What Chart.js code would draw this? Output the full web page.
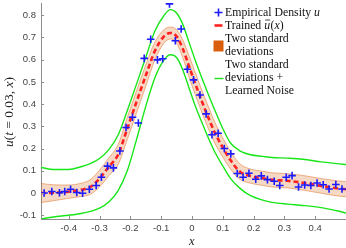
<!DOCTYPE html>
<html>
<head>
<meta charset="utf-8">
<script src="https://cdn.jsdelivr.net/npm/chart.js@4.4.1/dist/chart.umd.min.js"></script>
<style>
  html, body { margin: 0; padding: 0; background: #fff; }
  #wrap { width: 346px; height: 248px; }
</style>
</head>
<body>
<div id="wrap"><canvas id="c"></canvas></div>
<script>
// x grid shared by the curves
const gridX = [-0.49, -0.45, -0.40, -0.36, -0.33, -0.30, -0.27, -0.24, -0.21, -0.18, -0.15, -0.12, -0.09, -0.07, -0.05, -0.03, -0.01,
               0.01, 0.03, 0.05, 0.075, 0.10, 0.125, 0.155, 0.19, 0.23, 0.26, 0.31, 0.36, 0.42, 0.47, 0.50];
const meanU = [0.000, 0.001, 0.006, 0.014, 0.027, 0.065, 0.118, 0.172, 0.290, 0.410, 0.528, 0.640, 0.706, 0.720, 0.705, 0.650, 0.572,
               0.495, 0.420, 0.350, 0.269, 0.205, 0.148, 0.097, 0.076, 0.066, 0.059, 0.055, 0.046, 0.032, 0.021, 0.017];
const bandHigh = [0.043, 0.037, 0.036, 0.044, 0.060, 0.103, 0.158, 0.217, 0.340, 0.460, 0.576, 0.680, 0.736, 0.747, 0.735, 0.690, 0.620,
                  0.545, 0.470, 0.400, 0.316, 0.248, 0.188, 0.132, 0.108, 0.098, 0.091, 0.087, 0.079, 0.065, 0.055, 0.051];
const bandLow = [-0.043, -0.035, -0.024, -0.016, -0.006, 0.027, 0.078, 0.127, 0.240, 0.360, 0.480, 0.600, 0.676, 0.693, 0.675, 0.610, 0.524,
                 0.445, 0.370, 0.300, 0.222, 0.162, 0.108, 0.062, 0.044, 0.034, 0.027, 0.023, 0.013, -0.001, -0.013, -0.017];
const noiseHigh = [0.115, 0.106, 0.106, 0.118, 0.132, 0.155, 0.195, 0.260, 0.370, 0.490, 0.610, 0.730, 0.800, 0.825, 0.810, 0.760, 0.680,
                   0.600, 0.525, 0.455, 0.370, 0.290, 0.225, 0.190, 0.172, 0.165, 0.160, 0.157, 0.152, 0.140, 0.132, 0.128];
const noiseLow = [-0.117, -0.108, -0.100, -0.092, -0.083, -0.068, -0.040, 0.010, 0.100, 0.240, 0.390, 0.520, 0.600, 0.622, 0.610, 0.555, 0.475,
                  0.395, 0.325, 0.258, 0.182, 0.122, 0.066, 0.022, -0.012, -0.032, -0.042, -0.050, -0.056, -0.066, -0.080, -0.090];

// empirical density samples
const sampleX = [-0.480, -0.455, -0.430, -0.413, -0.394, -0.374, -0.355, -0.333, -0.311, -0.294, -0.274, -0.255, -0.234, -0.214, -0.193, -0.174,
                 -0.155, -0.134, -0.112, -0.095, -0.073, -0.054, -0.035, -0.015, 0.005, 0.026, 0.046, 0.065, 0.085, 0.105, 0.126, 0.147,
                 0.166, 0.185, 0.207, 0.225, 0.245, 0.267, 0.285, 0.306, 0.325, 0.346, 0.366, 0.386, 0.406, 0.426, 0.445, 0.467, 0.487];
const sampleU = [0.000, 0.007, 0.001, 0.007, 0.017, 0.002, -0.001, 0.017, 0.034, 0.071, 0.121, 0.113, 0.189, 0.295, 0.341, 0.315,
                 0.606, 0.692, 0.599, 0.604, 0.851, 0.685, 0.738, 0.557, 0.509, 0.441, 0.356, 0.262, 0.269, 0.200, 0.176, 0.088,
                 0.071, 0.089, 0.062, 0.077, 0.060, 0.053, 0.034, 0.071, 0.078, 0.027, 0.036, 0.034, 0.045, 0.037, 0.018, 0.038, 0.018];

const xTicks = [-0.4, -0.3, -0.2, -0.1, 0, 0.1, 0.2, 0.3, 0.4];
const yTicks = [-0.1, 0, 0.1, 0.2, 0.3, 0.4, 0.5, 0.6, 0.7, 0.8];

const pts = ys => gridX.map((x, i) => ({ x, y: ys[i] }));

const SERIF = '"Liberation Serif", "DejaVu Serif", serif';
const BLUE = '#1c1cff', RED = '#ff2020', GREEN = '#19e619', ORANGE = '#d95f0e';

function drawRuns(ctx, runs, x, y, size) {
    for (const [t, it] of runs) {
        ctx.font = (it ? 'italic ' : '') + size + 'px ' + SERIF;
        ctx.fillText(t, x, y);
        x += ctx.measureText(t).width;
    }
    return x;
}

function runsWidth(ctx, runs, size) {
    let w = 0;
    for (const [t, it] of runs) {
        ctx.font = (it ? 'italic ' : '') + size + 'px ' + SERIF;
        w += ctx.measureText(t).width;
    }
    return w;
}

const decorations = {
    id: 'decorations',
    afterDraw(chart) {
        const { ctx, chartArea: a, scales: { x, y } } = chart;
        ctx.save();

        // inward tick marks
        ctx.strokeStyle = '#8c8c8c';
        ctx.lineWidth = 1;
        ctx.beginPath();
        for (const v of xTicks) {
            const px = Math.round(x.getPixelForValue(v)) + 0.5;
            ctx.moveTo(px, a.bottom);
            ctx.lineTo(px, a.bottom - 3);
        }
        for (const v of yTicks) {
            const py = Math.round(y.getPixelForValue(v)) + 0.5;
            ctx.moveTo(a.left, py);
            ctx.lineTo(a.left + 3, py);
        }
        ctx.stroke();

        // axis titles
        ctx.fillStyle = '#222';
        ctx.textBaseline = 'middle';
        drawRuns(ctx, [['x', true]], x.getPixelForValue(0) - 3, 242, 12.5);

        const yRuns = [['u', true], ['(', false], ['t', true], [' = 0.03, ', false], ['x', true], [')', false]];
        ctx.save();
        ctx.translate(9.5, 112);
        ctx.rotate(-Math.PI / 2);
        drawRuns(ctx, yRuns, -runsWidth(ctx, yRuns, 13.5) / 2, 0, 13.5);
        ctx.restore();

        // legend
        const tx = 225, fs = 11.8;
        ctx.fillStyle = '#111';

        ctx.strokeStyle = BLUE;
        ctx.lineWidth = 1.6;
        ctx.beginPath();
        ctx.moveTo(214.5, 12.5); ctx.lineTo(222.5, 12.5);
        ctx.moveTo(218.5, 8.5); ctx.lineTo(218.5, 16.5);
        ctx.stroke();
        drawRuns(ctx, [['Empirical Density ', false], ['u', true]], tx, 12.5, fs);

        ctx.strokeStyle = RED;
        ctx.lineWidth = 2.6;
        ctx.beginPath();
        ctx.moveTo(214.5, 25.5); ctx.lineTo(222.5, 25.5);
        ctx.stroke();
        const ux = tx + runsWidth(ctx, [['Trained ', false]], fs);
        const ue = drawRuns(ctx, [['Trained ', false], ['u', true]], tx, 25.5, fs);
        ctx.strokeStyle = '#111';
        ctx.lineWidth = 0.8;
        ctx.beginPath();
        ctx.moveTo(ux + 1, 20); ctx.lineTo(ue, 20);
        ctx.stroke();
        drawRuns(ctx, [['(', false], ['x', true], [')', false]], ue + 0.5, 25.5, fs);

        ctx.fillStyle = ORANGE;
        ctx.fillRect(213.5, 40.5, 10, 11);
        ctx.fillStyle = '#111';
        drawRuns(ctx, [['Two standard', false]], tx, 38.5, fs);
        drawRuns(ctx, [['deviations', false]], tx, 51.5, fs);

        ctx.strokeStyle = GREEN;
        ctx.lineWidth = 1.4;
        ctx.beginPath();
        ctx.moveTo(214.5, 78.5); ctx.lineTo(223.5, 78.5);
        ctx.stroke();
        drawRuns(ctx, [['Two standard', false]], tx, 64.5, fs);
        drawRuns(ctx, [['deviations +', false]], tx, 77.5, fs);
        drawRuns(ctx, [['Learned Noise', false]], tx, 90.5, fs);

        ctx.restore();
    }
};

const curve = {
    pointRadius: 0,
    fill: false,
    cubicInterpolationMode: 'monotone'
};

const tickFont = { family: '"Liberation Sans", Arial, sans-serif', size: 9.5 };

new Chart(document.getElementById('c'), {
    type: 'line',
    data: {
        datasets: [
            {
                label: 'Empirical Density u',
                data: sampleX.map((x, i) => ({ x, y: sampleU[i] })),
                showLine: false,
                pointStyle: 'cross',
                pointRadius: 3.8,
                pointBorderWidth: 1.6,
                borderColor: BLUE,
                backgroundColor: BLUE,
                order: 0
            },
            {
                ...curve,
                label: 'Trained',
                data: pts(meanU),
                borderColor: RED,
                borderWidth: 2.6,
                borderDash: [5, 3],
                order: 1
            },
            { ...curve, label: 'noise high', data: pts(noiseHigh), borderColor: GREEN, borderWidth: 1.4, order: 2 },
            { ...curve, label: 'noise low', data: pts(noiseLow), borderColor: GREEN, borderWidth: 1.4, order: 2 },
            { ...curve, label: 'band low', data: pts(bandLow), borderColor: 'rgba(217,95,14,0.45)', borderWidth: 1, order: 3 },
            {
                ...curve,
                label: 'band high',
                data: pts(bandHigh),
                borderColor: 'rgba(217,95,14,0.45)',
                borderWidth: 1,
                fill: '-1',
                backgroundColor: 'rgba(217,95,14,0.24)',
                order: 3
            }
        ]
    },
    options: {
        responsive: true,
        maintainAspectRatio: false,
        animation: false,
        layout: { autoPadding: false, padding: { top: 3, right: 0, left: 0, bottom: 0 } },
        plugins: { legend: { display: false }, tooltip: { enabled: false } },
        scales: {
            x: {
                type: 'linear',
                min: -0.49,
                max: 0.5,
                afterBuildTicks: s => { s.ticks = xTicks.map(v => ({ value: v })); },
                afterFit: s => { s.height = 29; s.paddingLeft = 0; s.paddingRight = 0; },
                grid: { display: false, drawTicks: false, tickLength: 0 },
                border: { color: '#8c8c8c', width: 1 },
                ticks: {
                    autoSkip: false,
                    maxRotation: 0,
                    padding: 4,
                    color: '#444',
                    font: tickFont,
                    callback: v => String(Math.round(v * 10) / 10)
                }
            },
            y: {
                type: 'linear',
                min: -0.117,
                max: 0.855,
                afterBuildTicks: s => { s.ticks = yTicks.map(v => ({ value: v })); },
                afterFit: s => { s.width = 41; s.paddingTop = 0; s.paddingBottom = 0; },
                grid: { display: false, drawTicks: false, tickLength: 0 },
                border: { color: '#8c8c8c', width: 1 },
                ticks: {
                    autoSkip: false,
                    padding: 5,
                    color: '#444',
                    font: tickFont,
                    callback: v => String(Math.round(v * 10) / 10)
                }
            }
        }
    },
    plugins: [decorations]
});
</script>
</body>
</html>
